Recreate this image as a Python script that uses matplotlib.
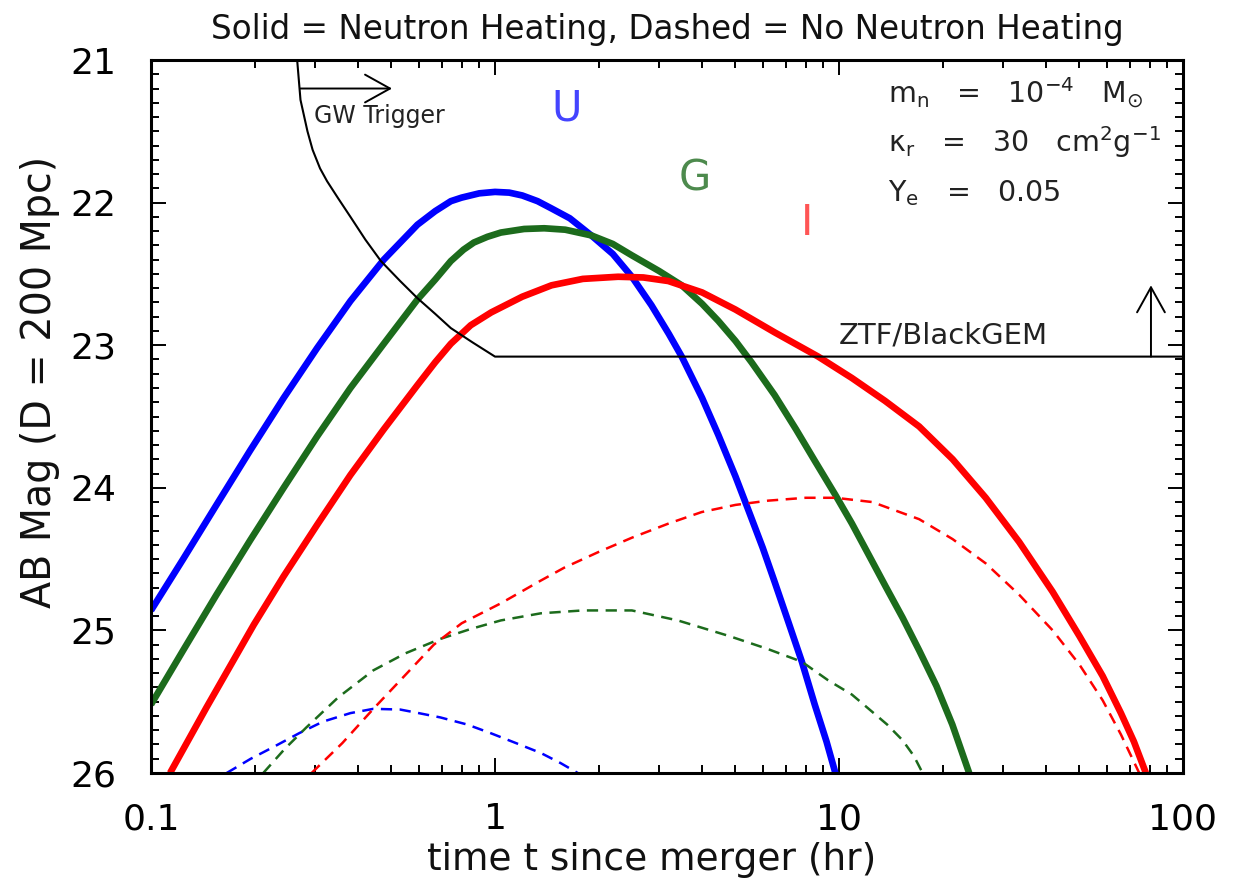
import matplotlib
matplotlib.use("Agg")
import matplotlib.pyplot as plt
from matplotlib.ticker import FixedLocator, NullFormatter, LogLocator

plt.rcParams['font.family'] = ['DejaVu Sans']
plt.rcParams['mathtext.default'] = 'regular'

# ---------------- data ----------------
# U band, with neutron heating (solid)
u_heat_t = [0.1, 0.124, 0.155, 0.194, 0.243, 0.304, 0.380, 0.475, 0.595, 0.67, 0.744,
            0.8, 0.9, 1.0, 1.1, 1.2, 1.33, 1.457, 1.65, 1.905, 2.2, 2.5, 2.85, 3.2,
            3.49, 4.0, 4.46, 5.0, 5.42, 6.0, 6.5, 7.1, 7.8, 8.5, 9.2, 9.76]
u_heat_m = [24.86, 24.50, 24.12, 23.74, 23.37, 23.02, 22.69, 22.40, 22.155, 22.06, 21.99,
            21.965, 21.935, 21.925, 21.93, 21.95, 21.99, 22.04, 22.11, 22.23, 22.36, 22.52, 22.72, 22.92,
            23.08, 23.37, 23.63, 23.92, 24.14, 24.42, 24.66, 24.93, 25.22, 25.52, 25.78, 26.0]

# G band, with neutron heating (solid)
g_heat_t = [0.1, 0.124, 0.155, 0.194, 0.243, 0.304, 0.380, 0.475, 0.595, 0.67, 0.744,
            0.81, 0.868, 0.95, 1.04, 1.215, 1.39, 1.6, 1.905, 2.2, 2.5, 3.0, 3.49, 4.0,
            4.46, 5.0, 5.57, 6.5, 7.5, 8.5, 9.76, 10.9, 12.2, 13.65, 15.3, 17.1, 19.2,
            21.35, 23.9]
g_heat_m = [25.52, 25.14, 24.75, 24.37, 24.00, 23.64, 23.30, 22.99, 22.68, 22.54, 22.41,
            22.33, 22.28, 22.24, 22.21, 22.185, 22.18, 22.19, 22.23, 22.29, 22.37, 22.48, 22.58, 22.71,
            22.83, 22.97, 23.12, 23.35, 23.59, 23.81, 24.05, 24.25, 24.47, 24.69, 24.91, 25.14, 25.39,
            25.66, 26.0]

# I band, with neutron heating (solid)
i_heat_t = [0.1136, 0.145, 0.199, 0.243, 0.304, 0.380, 0.475, 0.595, 0.67, 0.744, 0.85,
            0.975, 1.2, 1.46, 1.8, 2.28, 2.7, 3.19, 4.0, 5.0, 6.5, 8.7, 10.9, 13.6,
            17.1, 21.4, 26.7, 33.4, 41.8, 50.0, 58.4, 66.0, 72.0, 78.0]
i_heat_m = [26.0, 25.54, 24.96, 24.62, 24.26, 23.91, 23.59, 23.28, 23.12, 22.99, 22.86,
            22.77, 22.66, 22.58, 22.535, 22.52, 22.525, 22.55, 22.63, 22.75, 22.91, 23.08, 23.23, 23.39,
            23.57, 23.80, 24.07, 24.38, 24.73, 25.04, 25.32, 25.58, 25.78, 26.0]

# U band, no neutron heating (dashed)
u_none_t = [0.166, 0.195, 0.226, 0.27, 0.316, 0.38, 0.443, 0.53, 0.6, 0.693, 0.83,
            0.97, 1.15, 1.36, 1.55, 1.74]
u_none_m = [26.0, 25.90, 25.82, 25.72, 25.64, 25.58, 25.55, 25.555, 25.58, 25.61, 25.66,
            25.72, 25.79, 25.86, 25.93, 26.0]

# G band, no neutron heating (dashed)
g_none_t = [0.212, 0.245, 0.283, 0.35, 0.443, 0.55, 0.693, 0.85, 1.04, 1.36, 1.8, 2.5,
            3.4, 4.8, 6.2, 7.8, 9.3, 10.9, 12.2, 13.8, 15.3, 16.5, 17.5]
g_none_m = [26.0, 25.83, 25.68, 25.47, 25.28, 25.16, 25.06, 24.99, 24.93, 24.88, 24.86, 24.86,
            24.93, 25.04, 25.13, 25.22, 25.35, 25.45, 25.55, 25.66, 25.77, 25.88, 26.0]

# I band, no neutron heating (dashed)
i_none_t = [0.293, 0.36, 0.443, 0.555, 0.664, 0.8, 1.04, 1.36, 1.59, 2.0, 2.5, 3.2, 3.99,
            5.0, 6.23, 8.0, 9.76, 12.5, 17.1, 21.4, 26.7, 33.4, 41.8, 50.0, 58.4, 66.0, 74.6]
i_none_m = [26.0, 25.79, 25.55, 25.30, 25.10, 24.95, 24.81, 24.65, 24.56, 24.45, 24.35, 24.25, 24.17,
            24.12, 24.09, 24.07, 24.07, 24.10, 24.22, 24.36, 24.53, 24.75, 25.00, 25.24, 25.49, 25.73, 26.0]

# Detection limit (GW trigger response, then ZTF/BlackGEM depth)
limit_t = [0.266, 0.272, 0.285, 0.295, 0.31, 0.325, 0.35, 0.38, 0.42, 0.466, 0.53,
           0.595, 0.67, 0.744, 0.86, 1.0, 100.0]
limit_m = [21.0, 21.28, 21.50, 21.63, 21.76, 21.85, 21.97, 22.10, 22.26, 22.41, 22.55,
           22.67, 22.78, 22.88, 22.98, 23.08, 23.08]

band_labels = ['U', 'G', 'I']
band_label_t = [1.62, 3.81, 8.1]
band_label_m = [21.34, 21.83, 22.14]

x_ticks = [0.1, 1, 10, 100]
x_ticklabels = ['0.1', '1', '10', '100']
y_ticks = [21, 22, 23, 24, 25, 26]
y_ticklabels = ['21', '22', '23', '24', '25', '26']

# annotation anchors
gw_arrow_m = 21.2
gw_arrow_t0, gw_arrow_t1 = 0.272, 0.502
ztf_arrow_t = 80.7
ztf_arrow_m0, ztf_arrow_m1 = 23.08, 22.58

# ---------------- styling ----------------
BLUE = '#0000ff'
GREEN = '#1c6b1c'
RED = '#ff0000'

W, H = 1245, 888
fig = plt.figure(figsize=(W / 100, H / 100), dpi=100)
ax = fig.add_axes([151 / W, 1 - 773 / H, (1183 - 151) / W, (773 - 60) / H])

solid_lw = 4.8
dash_lw = 1.8
dash = (0, (4.5, 3.0))
sk = dict(solid_capstyle='butt', solid_joinstyle='round')

ax.plot(u_heat_t, u_heat_m, color=BLUE, lw=solid_lw, **sk)
ax.plot(g_heat_t, g_heat_m, color=GREEN, lw=solid_lw, **sk)
ax.plot(i_heat_t, i_heat_m, color=RED, lw=solid_lw, **sk)
ax.plot(u_none_t, u_none_m, color=BLUE, lw=dash_lw, linestyle=dash)
ax.plot(g_none_t, g_none_m, color=GREEN, lw=dash_lw, linestyle=dash)
ax.plot(i_none_t, i_none_m, color=RED, lw=dash_lw, linestyle=dash)
ax.plot(limit_t, limit_m, color='black', lw=1.5, solid_joinstyle='round')

ax.set_xscale('log')
ax.set_xlim(0.1, 100)
ax.set_ylim(26, 21)

ax.xaxis.set_major_locator(FixedLocator(x_ticks))
ax.set_xticklabels(x_ticklabels)
ax.xaxis.set_minor_locator(LogLocator(base=10, subs=range(2, 10)))
ax.xaxis.set_minor_formatter(NullFormatter())
ax.yaxis.set_major_locator(FixedLocator(y_ticks))
ax.set_yticklabels(y_ticklabels)
ax.yaxis.set_minor_locator(FixedLocator([21 + 0.1 * k for k in range(51)]))

ax.tick_params(which='both', direction='in', top=True, right=True, width=1.4,
               labelsize=26, colors='black')
ax.tick_params(axis='x', which='both', pad=21)
ax.tick_params(axis='y', which='both', pad=25)
ax.tick_params(which='major', length=11)
ax.tick_params(which='minor', length=6)
for s in ax.spines.values():
    s.set_linewidth(2.2)

# band labels
band_colors = ['#4444ff', '#4d8a4d', '#ff5555']
for lab, t, m, c in zip(band_labels, band_label_t, band_label_m, band_colors):
    ax.text(t, m, lab, color=c, fontsize=30, ha='center', va='center')

# arrows and their labels
ax.annotate('', xy=(gw_arrow_t1, gw_arrow_m), xytext=(gw_arrow_t0, gw_arrow_m),
            arrowprops=dict(arrowstyle='->,head_length=0.9,head_width=0.5',
                            lw=1.4, color='black', shrinkA=0, shrinkB=0,
                            mutation_scale=20))
ax.text(0.297, 21.39, 'GW Trigger', fontsize=17, color='#222222', ha='left', va='center')

ax.annotate('', xy=(ztf_arrow_t, ztf_arrow_m1), xytext=(ztf_arrow_t, ztf_arrow_m0),
            arrowprops=dict(arrowstyle='->,head_length=0.9,head_width=0.5',
                            lw=1.4, color='black', shrinkA=0, shrinkB=0,
                            mutation_scale=20))
ax.text(10.0, 22.93, 'ZTF/BlackGEM', fontsize=21, color='#222222', ha='left', va='center')

# parameter block
fig.text(888 / W, 1 - 103 / H, r'$m_n$   =   10$^{-4}$   M$_{\odot}$', fontsize=20.5,
         ha='left', va='baseline', color='#222222')
fig.text(888 / W, 1 - 152 / H, r'$\kappa_r$   =   30   cm$^2$g$^{-1}$', fontsize=20.5,
         ha='left', va='baseline', color='#222222')
fig.text(888 / W, 1 - 201 / H, r'$Y_e$   =   0.05', fontsize=20.5,
         ha='left', va='baseline', color='#222222')

# title and axis labels
fig.text(667 / W, 1 - 30 / H, 'Solid = Neutron Heating, Dashed = No Neutron Heating',
         fontsize=23.5, ha='center', va='center', color='#111111')
fig.text(652 / W, 1 - 860 / H, 'time t since merger (hr)', fontsize=27,
         ha='center', va='center', color='#111111')
fig.text(40 / W, 1 - 382 / H, 'AB Mag (D = 200 Mpc)', fontsize=28.5, rotation=90,
         ha='center', va='center', color='#111111')

fig.savefig('out.png', dpi=100)
